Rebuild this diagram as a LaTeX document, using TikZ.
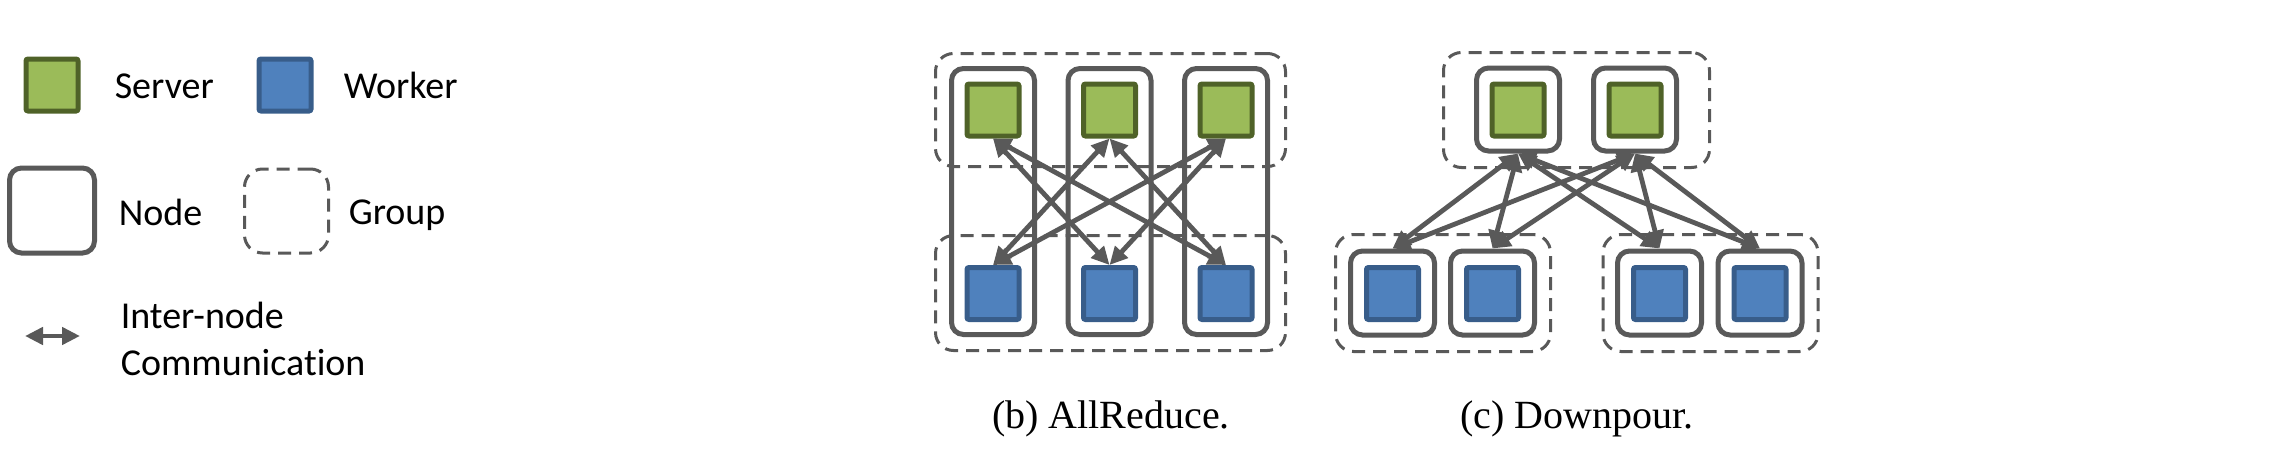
\documentclass[tikz,border=0pt]{standalone}
\usepackage{fontspec}
\newfontfamily\legfont[Ligatures=NoCommon]{Carlito}
\newfontfamily\capfont{Liberation Serif}
\usetikzlibrary{arrows.meta}
\definecolor{linegray}{HTML}{595959}
\definecolor{srvfill}{HTML}{9BBB59}
\definecolor{srvline}{HTML}{4F6228}
\definecolor{wrkfill}{HTML}{4F81BD}
\definecolor{wrkline}{HTML}{385D8A}

\begin{document}
\begin{tikzpicture}[x=0.25pt,y=-0.25pt,
  server/.style={draw=srvline,fill=srvfill,line width=1.25pt,minimum size=13pt,inner sep=0pt,rounded corners=0.5pt},
  worker/.style={server,draw=wrkline,fill=wrkfill},
  machine/.style={draw=linegray,line width=1.25pt,rounded corners=3pt,inner sep=0pt,minimum size=21pt},
  group/.style={draw=linegray,line width=0.75pt,dash pattern=on 3.25pt off 2pt,rounded corners=4.5pt,inner sep=0pt},
  comm/.style={draw=linegray,line width=1.2pt,{Triangle[length=4.5pt,width=4.25pt]}-{Triangle[length=4.5pt,width=4.25pt]}},
  legendtext/.style={font=\legfont\fontsize{9.5pt}{11.75pt}\selectfont,inner sep=0pt,anchor=base west},
  subcap/.style={font=\capfont\fontsize{10pt}{12pt}\selectfont,inner sep=0pt,anchor=base}]
\useasboundingbox (0,0) rectangle (2293,450);
% legend
\node[server] (legsrv) at (52,85) {};
\node[legendtext] (legsrvtext) at (114,98) {Server};
\node[worker] (legwrk) at (285,85) {};
\node[legendtext] (legwrktext) at (343,98) {Worker};
\node[machine,minimum size=21.25pt] (legnode) at (52,210.5) {};
\node[legendtext] (legnodetext) at (118,225) {Node};
\node[group,minimum size=21pt] (leggrp) at (286.5,211) {};
\node[legendtext] (leggrptext) at (348,224) {Group};
\coordinate (legcommL) at (25,336);
\coordinate (legcommR) at (80,336);
\draw[comm] (legcommL) -- (legcommR);
\node[legendtext,align=left] (legcommtext) at (120,375) {Inter-node\\Communication};
% (b) allreduce
\node[group,minimum width=87.5pt,minimum height=28.25pt] (argrpS) at (1110.5,110) {};
\node[group,minimum width=87.5pt,minimum height=28.75pt] (argrpW) at (1110.5,293) {};
\node[machine,minimum width=20.75pt,minimum height=66.5pt] (arnode1) at (993,201.5) {};
\node[machine,minimum width=20.75pt,minimum height=66.5pt] (arnode2) at (1109.5,201.5) {};
\node[machine,minimum width=20.75pt,minimum height=66.5pt] (arnode3) at (1226,201.5) {};
\node[server] (arsrv1) at (993,110) {};
\node[server] (arsrv2) at (1109.5,110) {};
\node[server] (arsrv3) at (1226,110) {};
\node[worker] (arwrk1) at (993,293.5) {};
\node[worker] (arwrk2) at (1109.5,293.5) {};
\node[worker] (arwrk3) at (1226,293.5) {};
\draw[comm] (arsrv1.south) -- (arwrk2.north);
\draw[comm] (arsrv1.south) -- (arwrk3.north);
\draw[comm] (arsrv2.south) -- (arwrk1.north);
\draw[comm] (arsrv2.south) -- (arwrk3.north);
\draw[comm] (arsrv3.south) -- (arwrk1.north);
\draw[comm] (arsrv3.south) -- (arwrk2.north);
\node[subcap] (capb) at (1111,428) {(b) AllReduce.};
% (c) downpour
\node[group,minimum width=66.5pt,minimum height=28.75pt] (dpgrpS) at (1576.5,110) {};
\node[group,minimum width=53.75pt,minimum height=29.25pt] (dpgrpW1) at (1443,293) {};
\node[group,minimum width=53.75pt,minimum height=29.25pt] (dpgrpW2) at (1710.5,293) {};
\node[machine,minimum size=20.75pt] (dpnodeS1) at (1518,109.5) {};
\node[machine,minimum size=20.75pt] (dpnodeS2) at (1635,109.5) {};
\node[server] (dpsrv1) at (1518,110) {};
\node[server] (dpsrv2) at (1635,110) {};
\node[machine] (dpnodeW1) at (1392.5,293) {};
\node[machine] (dpnodeW2) at (1492.5,293) {};
\node[machine] (dpnodeW3) at (1659.5,293) {};
\node[machine] (dpnodeW4) at (1760,293) {};
\node[worker] (dpwrk1) at (1392.5,293.5) {};
\node[worker] (dpwrk2) at (1492.5,293.5) {};
\node[worker] (dpwrk3) at (1659.5,293.5) {};
\node[worker] (dpwrk4) at (1760,293.5) {};
\draw[comm] (dpnodeS1.south) -- (dpnodeW1.north);
\draw[comm] (dpnodeS1.south) -- (dpnodeW2.north);
\draw[comm] (dpnodeS1.south) -- (dpnodeW3.north);
\draw[comm] (dpnodeS1.south) -- (dpnodeW4.north);
\draw[comm] (dpnodeS2.south) -- (dpnodeW1.north);
\draw[comm] (dpnodeS2.south) -- (dpnodeW2.north);
\draw[comm] (dpnodeS2.south) -- (dpnodeW3.north);
\draw[comm] (dpnodeS2.south) -- (dpnodeW4.north);
\node[subcap] (capc) at (1577,428) {(c) Downpour.};
\end{tikzpicture}
\end{document}
